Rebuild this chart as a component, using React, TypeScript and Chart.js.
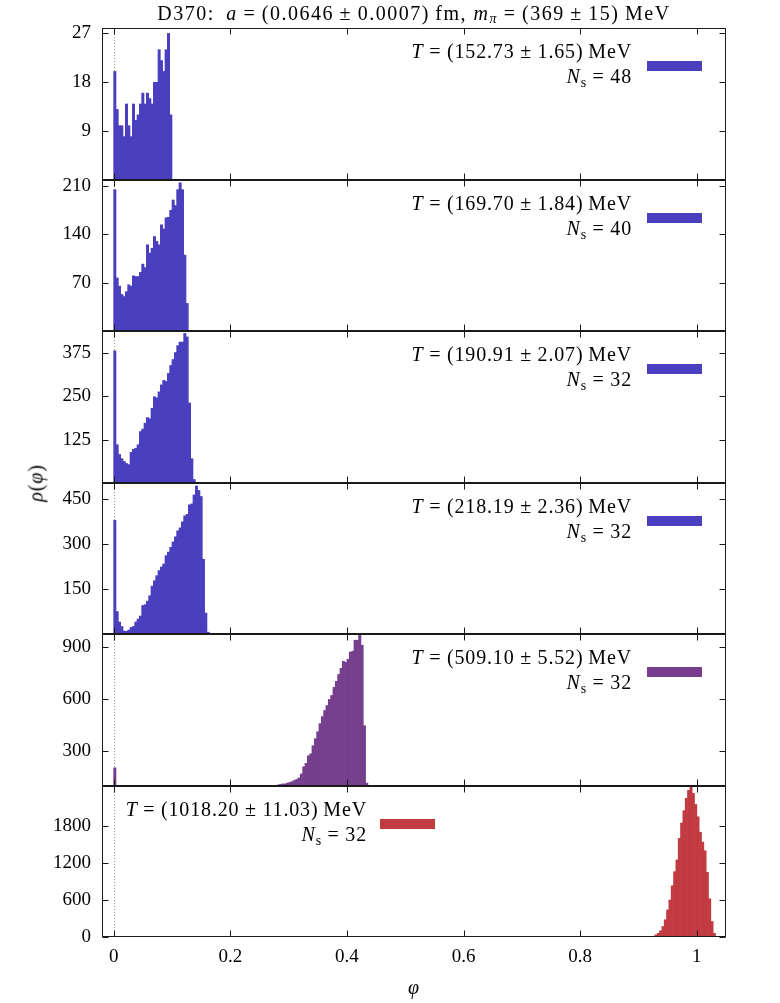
import React, { useEffect, useRef } from "react";
import { Chart, registerables } from "chart.js";

Chart.register(...registerables);

const FONT = "'Liberation Serif', 'Times New Roman', serif";
const W = 780;
const H = 1003;
const PLOT_LEFT = 102;
const PLOT_RIGHT = 726;
const X_AXIS_H = 40;

// ---- data -------------------------------------------------------------
const BIN_WIDTH = 0.004;
const X_MIN = -0.02;
const X_MAX = 1.05;
const X_TICKS = [0, 0.2, 0.4, 0.6, 0.8, 1];
const X_TICK_LABELS = ["0", "0.2", "0.4", "0.6", "0.8", "1"];

const temperatures = [
  ["152.73", "1.65"],
  ["169.70", "1.84"],
  ["190.91", "2.07"],
  ["218.19", "2.36"],
  ["509.10", "5.52"],
  ["1018.20", "11.03"],
];
const spatialSizes = [48, 40, 32, 32, 32, 32];

const yMins = [0, 0, 0, 0, 95, 0];
const yMaxs = [28, 219, 437, 505, 975, 2450];
const yTicks1 = [9, 18, 27];
const yTicks2 = [70, 140, 210];
const yTicks3 = [125, 250, 375];
const yTicks4 = [150, 300, 450];
const yTicks5 = [300, 600, 900];
const yTicks6 = [0, 600, 1200, 1800];

const binStarts = [0, 0, 0, 0, 0.28, 0.92];

const rho1 = [20, 13, 10, 10, 8, 14, 10, 8, 14, 11, 12, 14, 16, 14, 16, 15, 14, 18, 18, 24, 22, 20, 24, 27, 12];
const rho2 = [205, 77, 65, 53, 50, 57, 67, 65, 80, 79, 79, 85, 97, 92, 125, 113, 120, 137, 130, 125, 154, 148, 164, 165, 175, 190, 182, 205, 215, 205, 110, 40];
const rho3 = [380, 110, 82, 70, 62, 56, 53, 88, 97, 100, 110, 148, 155, 172, 188, 185, 215, 248, 245, 262, 282, 295, 292, 315, 338, 355, 375, 395, 405, 405, 430, 420, 230, 70, 10];
const rho4 = [380, 75, 40, 25, 10, 9, 13, 22, 25, 40, 50, 60, 95, 98, 110, 128, 160, 178, 195, 212, 224, 234, 262, 274, 290, 308, 325, 345, 355, 375, 395, 400, 432, 435, 465, 495, 480, 460, 250, 70, 6];
const rho5 = [101, 104, 107, 107, 112, 115, 120, 127, 133, 142, 165, 206, 226, 270, 281, 328, 369, 409, 456, 497, 532, 561, 596, 619, 666, 701, 741, 776, 817, 811, 829, 870, 875, 939, 939, 974, 910, 444, 112];
const rho5AtZero = 200;
const rho6 = [5, 12, 35, 60, 100, 170, 280, 440, 600, 830, 1060, 1250, 1600, 1850, 2050, 2250, 2380, 2440, 2330, 2150, 1950, 1700, 1540, 1400, 1050, 620, 250, 60, 10];

const BLUE = "#4a3fbe";
const PURPLE = "#763f8e";
const RED = "#c13b41";

const panelTops = [28, 180, 331, 483, 634, 786];
const panelBottoms = [180, 331, 483, 634, 786, 937];

type Panel = {
  values: number[];
  start: number;
  zeroBar: number | null;
  yMin: number;
  yMax: number;
  yTicks: number[];
  color: string;
  T: string[];
  Ns: number;
  top: number;
  bottom: number;
  keyRight: number;
  rectLeft: number;
};

const seriesList = [rho1, rho2, rho3, rho4, rho5, rho6];
const tickList = [yTicks1, yTicks2, yTicks3, yTicks4, yTicks5, yTicks6];
const colorList = [BLUE, BLUE, BLUE, BLUE, PURPLE, RED];

const PANELS: Panel[] = seriesList.map((values, i) => ({
  values,
  start: binStarts[i],
  zeroBar: i === 4 ? rho5AtZero : null,
  yMin: yMins[i],
  yMax: yMaxs[i],
  yTicks: tickList[i],
  color: colorList[i],
  T: temperatures[i],
  Ns: spatialSizes[i],
  top: panelTops[i],
  bottom: panelBottoms[i],
  keyRight: i === 5 ? 367 : 632,
  rectLeft: i === 5 ? 380 : 647,
}));

// ---- plugin: frame, inward ticks, dotted zero line ----------------------
const framePlugin = {
  id: "gpFrame",
  beforeDatasetsDraw(chart: any) {
    const { ctx, chartArea: a, scales } = chart;
    const x0 = Math.round(scales.x.getPixelForValue(0)) + 0.5;
    ctx.save();
    ctx.strokeStyle = "#9a9a9a";
    ctx.lineWidth = 1;
    ctx.setLineDash([1, 2]);
    ctx.beginPath();
    ctx.moveTo(x0, a.top);
    ctx.lineTo(x0, a.bottom);
    ctx.stroke();
    ctx.restore();
  },
  afterDraw(chart: any) {
    const { ctx, chartArea: a, scales } = chart;
    const L = Math.round(a.left) + 0.5;
    const R = Math.round(a.right) - 0.5;
    const T = Math.round(a.top) + 0.5;
    const B = Math.round(a.bottom) - 0.5;
    const tl = 6;
    ctx.save();
    ctx.strokeStyle = "#1a1a1a";
    ctx.lineWidth = 1;
    ctx.beginPath();
    for (const t of scales.x.ticks) {
      const px = Math.round(scales.x.getPixelForValue(t.value)) + 0.5;
      ctx.moveTo(px, T);
      ctx.lineTo(px, T + tl);
      ctx.moveTo(px, B);
      ctx.lineTo(px, B - tl);
    }
    for (const t of scales.y.ticks) {
      const py = Math.round(scales.y.getPixelForValue(t.value)) + 0.5;
      ctx.moveTo(L, py);
      ctx.lineTo(L + tl, py);
      ctx.moveTo(R, py);
      ctx.lineTo(R - tl, py);
    }
    ctx.stroke();
    ctx.strokeRect(L, T, R - L, B - T);
    ctx.restore();
  },
};

const abs = (extra: React.CSSProperties): React.CSSProperties => ({
  position: "absolute",
  fontFamily: FONT,
  color: "#000",
  whiteSpace: "nowrap",
  letterSpacing: "0.85px",
  ...extra,
});

const subStyle: React.CSSProperties = { fontSize: "0.7em", verticalAlign: "-0.25em", lineHeight: 0 };
const OP: React.CSSProperties = { margin: "0 0.28em" };

export default function App() {
  const refs = useRef<(HTMLCanvasElement | null)[]>([]);

  useEffect(() => {
    const charts = PANELS.map((p, i) => {
      const canvas = refs.current[i]!;
      const last = i === PANELS.length - 1;
      const data: { x: number; y: number }[] = p.values.map((v, k) => ({
        x: p.start + BIN_WIDTH * (k + 0.5),
        y: v,
      }));
      if (p.zeroBar !== null) data.unshift({ x: BIN_WIDTH * 0.5, y: p.zeroBar });
      return new Chart(canvas, {
        type: "bar",
        data: {
          datasets: [
            {
              data,
              backgroundColor: p.color,
              borderWidth: 0,
              barPercentage: 1,
              categoryPercentage: 1,
              grouped: false,
            } as any,
          ],
        },
        options: {
          animation: false,
          responsive: false,
          events: [],
          layout: {
            padding: {
              top: p.top,
              bottom: H - p.bottom - (last ? X_AXIS_H : 0),
              left: 0,
              right: W - PLOT_RIGHT,
            },
          },
          plugins: { legend: { display: false }, tooltip: { enabled: false }, title: { display: false } },
          scales: {
            x: {
              type: "linear",
              min: X_MIN,
              max: X_MAX,
              offset: false,
              grid: { display: false, drawTicks: false },
              border: { display: false },
              afterBuildTicks: (s: any) => {
                s.ticks = X_TICKS.map((v) => ({ value: v }));
              },
              afterFit: (s: any) => {
                s.height = last ? X_AXIS_H : 0;
              },
              ticks: {
                display: last,
                padding: 9,
                maxRotation: 0,
                autoSkip: false,
                color: "#000",
                font: { family: FONT, size: 19 },
                callback: (_v: any, idx: number) => X_TICK_LABELS[idx],
              },
            },
            y: {
              type: "linear",
              min: p.yMin,
              max: p.yMax,
              grid: { display: false, drawTicks: false },
              border: { display: false },
              afterBuildTicks: (s: any) => {
                s.ticks = p.yTicks.map((v) => ({ value: v }));
              },
              afterFit: (s: any) => {
                s.width = PLOT_LEFT;
              },
              ticks: {
                padding: 11,
                autoSkip: false,
                color: "#000",
                font: { family: FONT, size: 19 },
                callback: (v: any) => String(v),
              },
            },
          },
        } as any,
        plugins: [framePlugin],
      });
    });
    return () => charts.forEach((c) => c.destroy());
  }, []);

  return (
    <div style={{ position: "absolute", left: 0, top: 0, width: W, height: H, background: "#fff", overflow: "hidden" }}>
      {PANELS.map((_, i) => (
        <canvas
          key={i}
          ref={(el) => {
            refs.current[i] = el;
          }}
          width={W}
          height={H}
          style={{ position: "absolute", left: 0, top: 0, width: W, height: H }}
        />
      ))}
      {/* title */}
      <div style={abs({ left: 414, top: 13, transform: "translate(-50%, -50%)", fontSize: 20, letterSpacing: "1.5px" })}>
        D370:&ensp;<i>a</i>
        <span style={OP}>=</span>(0.0646<span style={OP}>±</span>0.0007)&thinsp;fm, <i>m</i>
        <span style={{ ...subStyle, fontStyle: "italic" }}>π</span>
        <span style={OP}>=</span>(369<span style={OP}>±</span>15)&thinsp;MeV
      </div>
      {/* y label */}
      <div style={abs({ left: 36, top: 483, transform: "translate(-50%, -50%) rotate(-90deg)", fontSize: 20 })}>
        <i>ρ</i>(<i>φ</i>)
      </div>
      {/* x label */}
      <div style={abs({ left: 414, top: 987, transform: "translate(-50%, -50%)", fontSize: 20 })}>
        <i>φ</i>
      </div>
      {/* keys */}
      {PANELS.map((p, i) => (
        <React.Fragment key={"k" + i}>
          <div
            style={abs({
              right: W - p.keyRight,
              top: p.top + 11,
              textAlign: "right",
              lineHeight: "25px",
              fontSize: 20,
            })}
          >
            <div>
              <i>T</i>
              <span style={OP}>=</span>({p.T[0]}
              <span style={OP}>±</span>
              {p.T[1]})&thinsp;MeV
            </div>
            <div>
              <i>N</i>
              <span style={subStyle}>s</span>
              <span style={OP}>=</span>
              {p.Ns}
            </div>
          </div>
          <div
            style={{
              position: "absolute",
              left: p.rectLeft,
              top: p.top + 33,
              width: 55,
              height: 10,
              background: p.color,
            }}
          />
        </React.Fragment>
      ))}
    </div>
  );
}
